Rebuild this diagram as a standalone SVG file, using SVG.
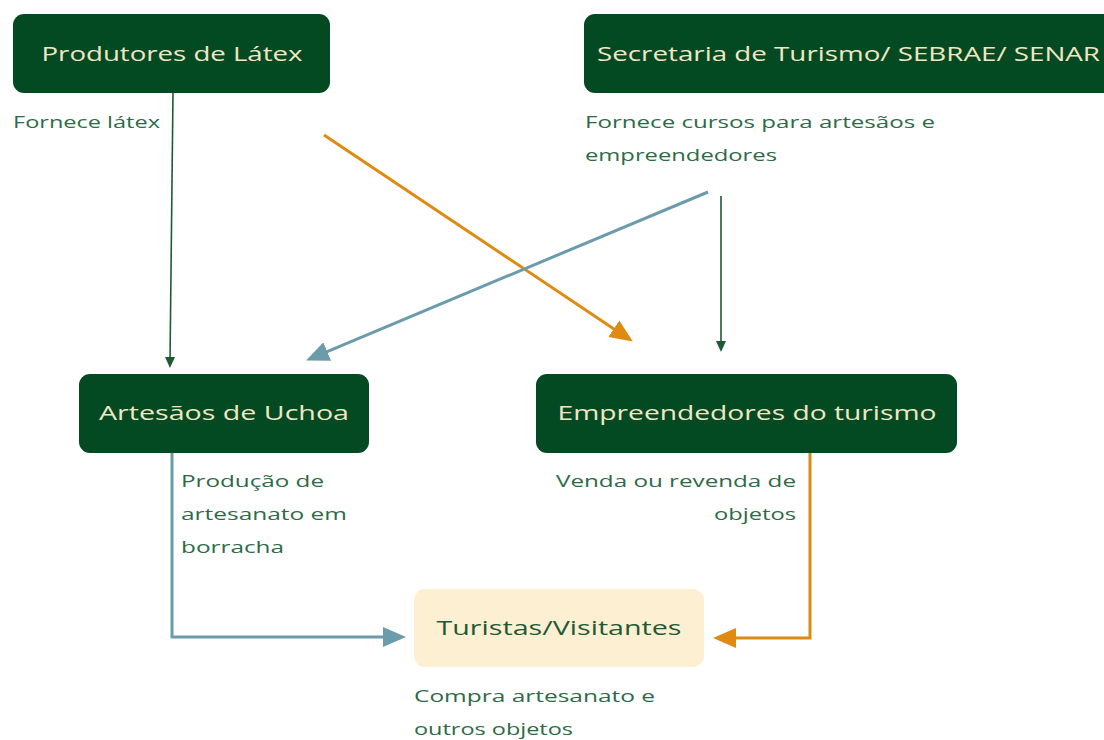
<svg xmlns="http://www.w3.org/2000/svg" width="1104" height="740" viewBox="0 0 1104 740">
<style>
.node rect{fill:#034a22}
.ttl{font-family:"Open Sans","Noto Sans",sans-serif;font-size:20px;fill:#f1e6c4;text-anchor:middle}
.lbl{font-family:"Open Sans","Noto Sans",sans-serif;font-size:16px;fill:#2d6b46}
.g{stroke:#1f5a35;stroke-width:1.6;fill:none}
.o{stroke:#e08a12;stroke-width:3;fill:none}
.b{stroke:#6b9cab;stroke-width:3;fill:none}
</style>
<defs>
<marker id="ag" markerUnits="userSpaceOnUse" markerWidth="12" markerHeight="12" refX="5" refY="5" orient="auto" viewBox="0 0 12 10"><path d="M0,0 L11,5 L0,10 Z" fill="#1f5a35"/></marker>
<marker id="ao" markerUnits="userSpaceOnUse" markerWidth="24" markerHeight="24" refX="11" refY="10" orient="auto" viewBox="0 0 24 20"><path d="M0,0 L23,10 L0,20 Z" fill="#e08a12"/></marker>
<marker id="ab" markerUnits="userSpaceOnUse" markerWidth="24" markerHeight="24" refX="11" refY="10" orient="auto" viewBox="0 0 24 20"><path d="M0,0 L23,10 L0,20 Z" fill="#6b9cab"/></marker>
</defs>
<rect width="1104" height="740" fill="#ffffff"/>
<g id="connectors">
<path class="g" d="M173,93 L170,362" marker-end="url(#ag)"/>
<path class="o" d="M324,135 L622.9,334.9" marker-end="url(#ao)"/>
<path class="b" d="M708,192 L317.1,355.8" marker-end="url(#ab)"/>
<path class="g" d="M721,196 L721,346" marker-end="url(#ag)"/>
<path class="b" d="M172,453 V637 H394" marker-end="url(#ab)"/>
<path class="o" d="M810,453 V638 H725" marker-end="url(#ao)"/>
</g>
<g id="produtores" class="node">
<rect x="13" y="14" width="317" height="79" rx="11"/>
<text class="ttl" x="172" y="61" textLength="261" lengthAdjust="spacingAndGlyphs">Produtores de Látex</text>
</g>
<g id="secretaria" class="node">
<rect x="584" y="14" width="540" height="79" rx="11"/>
<text class="ttl" x="597" y="61" style="text-anchor:start" textLength="503" lengthAdjust="spacingAndGlyphs">Secretaria de Turismo/ SEBRAE/ SENAR</text>
</g>
<g id="artesaos" class="node">
<rect x="79" y="374" width="290" height="79" rx="11"/>
<text class="ttl" x="224" y="420" textLength="250" lengthAdjust="spacingAndGlyphs">Artesãos de Uchoa</text>
</g>
<g id="empreendedores" class="node">
<rect x="536" y="374" width="421" height="79" rx="11"/>
<text class="ttl" x="747" y="420" textLength="379" lengthAdjust="spacingAndGlyphs">Empreendedores do turismo</text>
</g>
<g id="turistas">
<rect x="414" y="589" width="290" height="78" rx="11" fill="#fcefd2"/>
<text class="ttl" x="559" y="635" style="fill:#1f5a35" textLength="245" lengthAdjust="spacingAndGlyphs">Turistas/Visitantes</text>
</g>
<g id="labels">
<text class="lbl" x="13" y="128" textLength="147" lengthAdjust="spacingAndGlyphs">Fornece látex</text>
<text class="lbl" x="585" y="128" textLength="350" lengthAdjust="spacingAndGlyphs">Fornece cursos para artesãos e</text>
<text class="lbl" x="585" y="161" textLength="192" lengthAdjust="spacingAndGlyphs">empreendedores</text>
<text class="lbl" x="181" y="487" textLength="143" lengthAdjust="spacingAndGlyphs">Produção de</text>
<text class="lbl" x="181" y="520" textLength="166" lengthAdjust="spacingAndGlyphs">artesanato em</text>
<text class="lbl" x="181" y="553" textLength="103" lengthAdjust="spacingAndGlyphs">borracha</text>
<text class="lbl" x="796" y="487" style="text-anchor:end" textLength="240" lengthAdjust="spacingAndGlyphs">Venda ou revenda de</text>
<text class="lbl" x="796" y="520" style="text-anchor:end" textLength="82" lengthAdjust="spacingAndGlyphs">objetos</text>
<text class="lbl" x="414" y="702" textLength="241" lengthAdjust="spacingAndGlyphs">Compra artesanato e</text>
<text class="lbl" x="414" y="735" textLength="159" lengthAdjust="spacingAndGlyphs">outros objetos</text>
</g>
</svg>
